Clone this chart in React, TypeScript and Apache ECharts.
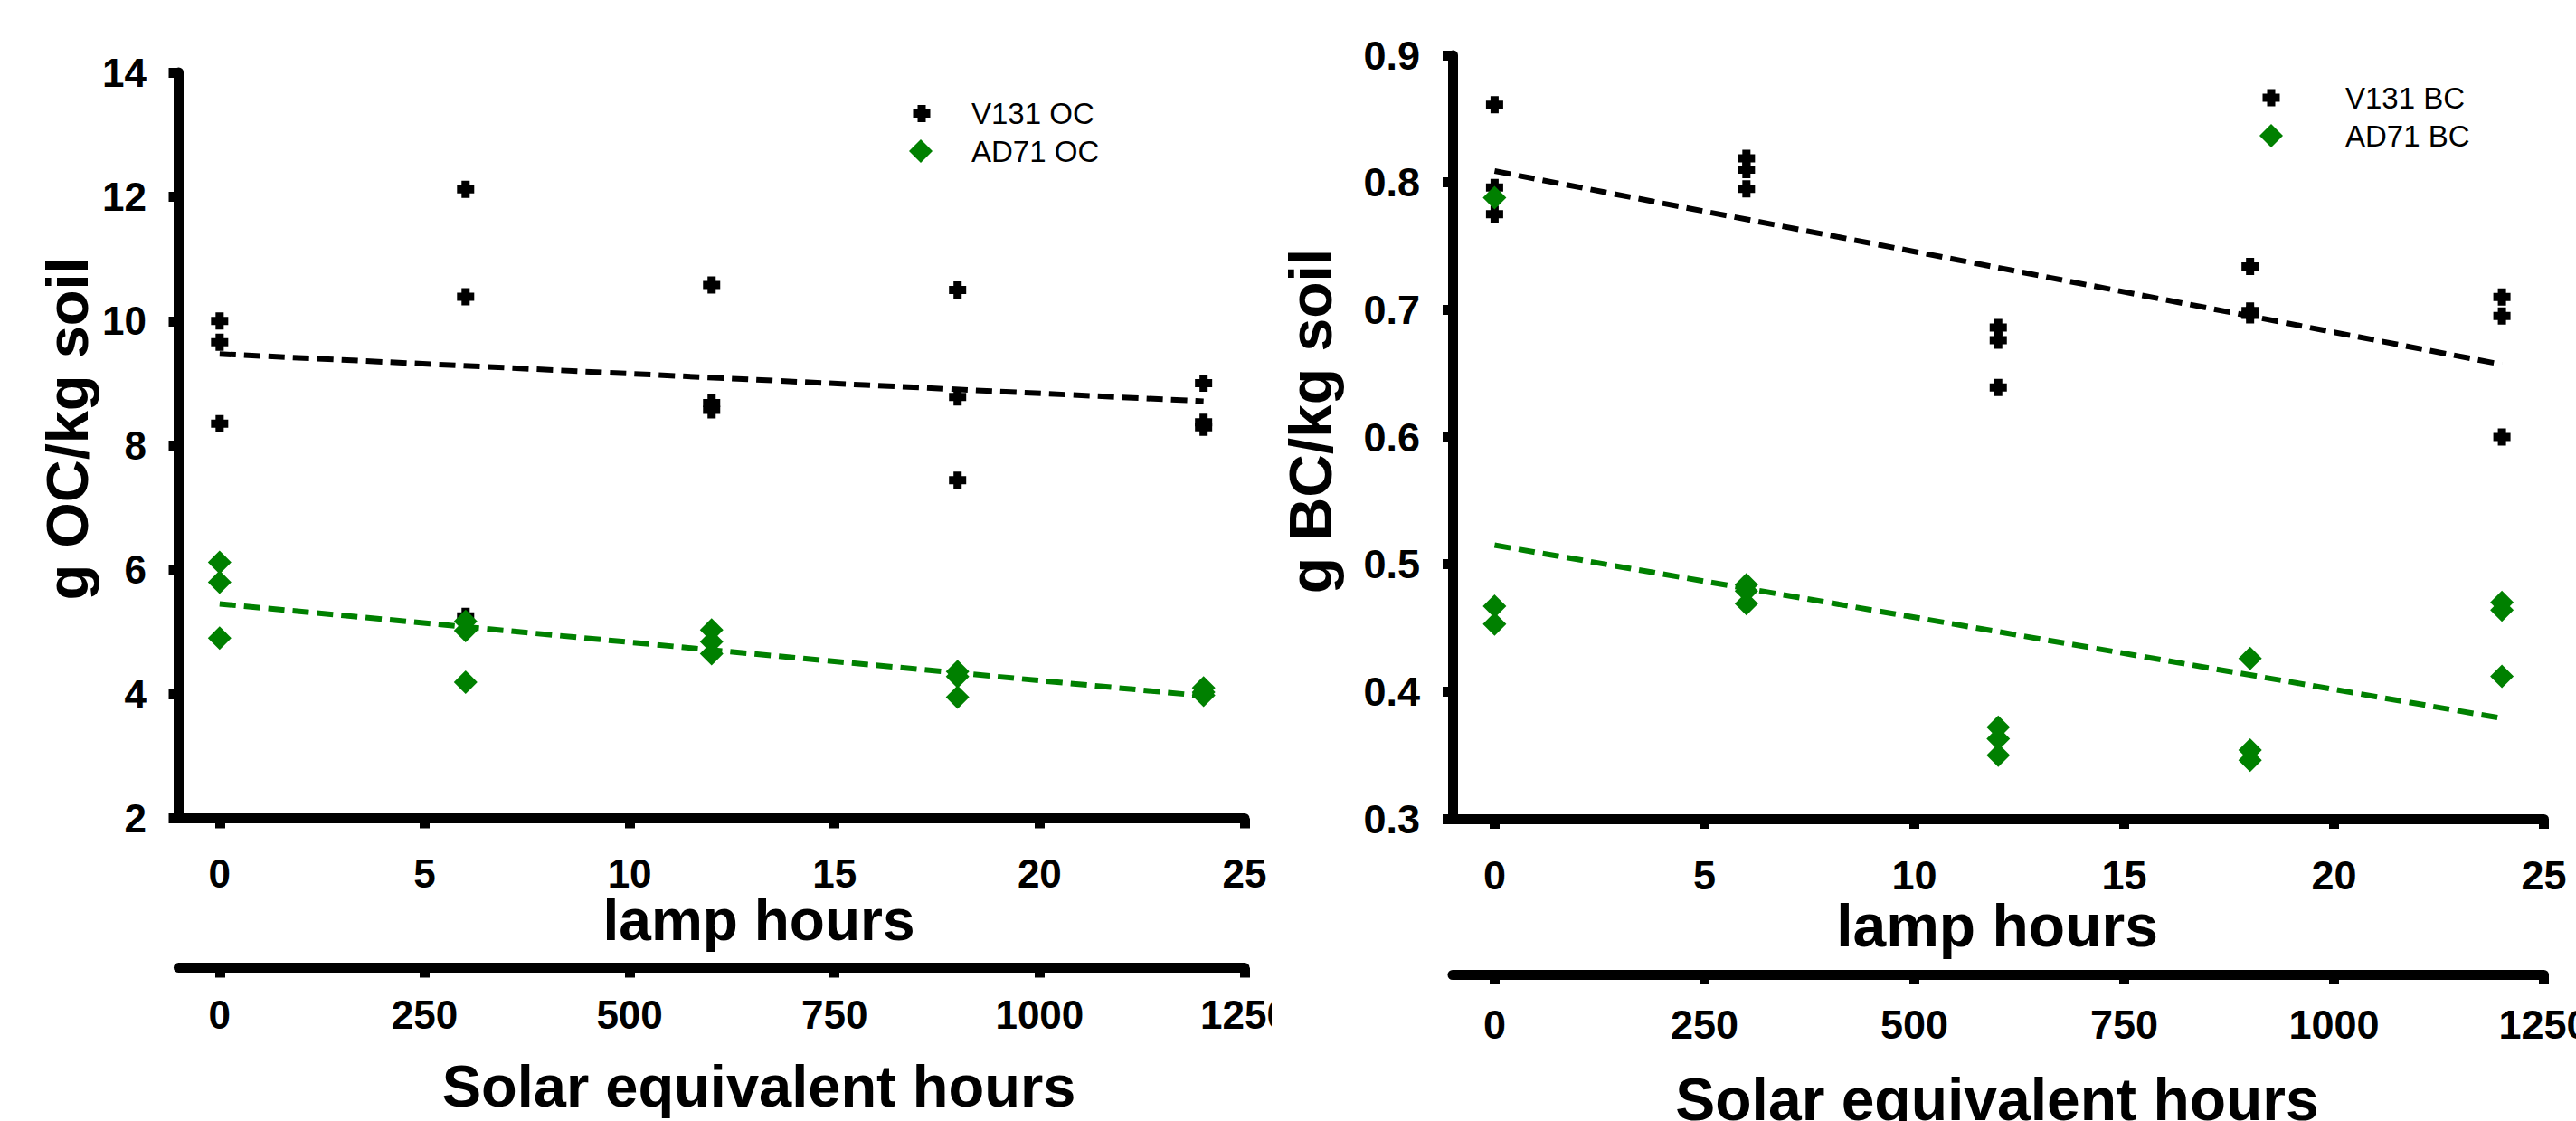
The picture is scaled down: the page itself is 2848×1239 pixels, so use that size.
import React, { useEffect, useRef } from "react";
import * as echarts from "echarts";

const FONT = "'Liberation Sans', Arial, Helvetica, sans-serif";

// tick labels
const lampTicks = [0, 5, 10, 15, 20, 25];
const solarTicks = [0, 250, 500, 750, 1000, 1250];

// ---- Left panel: organic carbon ----
const ocV131X = [0, 0, 0, 6, 6, 6, 12, 12, 12, 18, 18, 18, 24, 24, 24];
const ocV131Y = [10.0, 9.66, 8.35, 12.12, 10.39, 5.25, 10.58, 8.68, 8.57, 10.5, 8.78, 7.44, 9.0, 8.37, 8.29];
const ocAD71X = [0, 0, 0, 6, 6, 6, 12, 12, 12, 18, 18, 18, 24, 24, 24];
const ocAD71Y = [6.12, 5.8, 4.9, 5.17, 5.02, 4.19, 5.03, 4.84, 4.65, 4.36, 4.28, 3.95, 4.1, 4.03, 3.98];
const ocFitX = [0, 24];
const ocV131Fit = [9.47, 8.71];
const ocAD71Fit = [5.45, 3.97];

// ---- Right panel: black carbon ----
const bcV131X = [0, 0, 0, 6, 6, 6, 12, 12, 12, 18, 18, 18, 24, 24, 24];
const bcV131Y = [0.861, 0.796, 0.775, 0.819, 0.81, 0.795, 0.686, 0.676, 0.639, 0.734, 0.699, 0.696, 0.71, 0.695, 0.6];
const bcAD71X = [0, 0, 0, 6, 6, 6, 12, 12, 12, 18, 18, 18, 24, 24, 24];
const bcAD71Y = [0.788, 0.467, 0.453, 0.484, 0.479, 0.469, 0.372, 0.363, 0.35, 0.426, 0.354, 0.346, 0.47, 0.464, 0.412];
const bcFitX = [0, 24];
const bcV131Fit = [0.809, 0.657];
const bcAD71Fit = [0.515, 0.379];

const CROSS = "path://M5,0H14V5H19V14H14V19H5V14H0V5H5Z";
const BLACK = "#000000";
const GREEN = "#008000";

const zip = (xs: number[], ys: number[]) => xs.map((x, i) => [x, ys[i]]);

type PanelCfg = {
  gridLeft: number;
  gridTop: number;
  gridWidth: number;
  gridHeight: number;
  yMin: number;
  yMax: number;
  yInterval: number;
  yDecimals: number;
  yLabelSize: number;
  yLabelMargin: number;
  xLabelSize: number;
  xLabelMargin: number;
  x2Offset: number;
  x2LabelMargin: number;
  names: [string, string];
  v131: number[][];
  ad71: number[][];
  v131Fit: number[][];
  ad71Fit: number[][];
  legend: { bx: number; by: number; gx: number; gy: number; textX: number; size: number };
  yTitle: { text: string; x: number; y: number; size: number };
  lampTitle: { x: number; y: number; size: number };
  solarTitle: { x: number; y: number; size: number };
};

function axisBase() {
  return {
    axisLine: { show: true, onZero: false, lineStyle: { color: BLACK, width: 11 } },
    axisTick: { show: true, length: 11, lineStyle: { color: BLACK, width: 11 } },
    splitLine: { show: false },
  };
}

function buildOption(c: PanelCfg) {
  const labelStyle = (size: number, margin: number) => ({
    fontSize: size,
    fontWeight: "bold",
    fontFamily: FONT,
    color: BLACK,
    margin,
  });
  const legendItem = (name: string, icon: string, left: number, cy: number, w: number) => {
    const textH = c.legend.size;
    return {
      data: [{ name, icon }],
      orient: "vertical",
      left,
      top: cy - textH / 2,
      padding: 0,
      itemWidth: w,
      itemHeight: w,
      selectedMode: false,
      textStyle: {
        fontSize: c.legend.size,
        fontFamily: FONT,
        color: BLACK,
        padding: [0, 0, 0, c.legend.textX - (left + w + 5)],
      },
    };
  };
  const bw = 19;
  const gw = 26;
  const title = (text: string, x: number, y: number, size: number, rotation = 0) => ({
    type: "text",
    x,
    y,
    rotation,
    style: {
      text,
      fontSize: size,
      fontWeight: "bold",
      fontFamily: FONT,
      fill: BLACK,
      align: "center",
      verticalAlign: "middle",
      textAlign: "center",
      textVerticalAlign: "middle",
    },
  });
  return {
    animation: false,
    backgroundColor: "#ffffff",
    grid: {
      left: c.gridLeft,
      top: c.gridTop,
      width: c.gridWidth,
      height: c.gridHeight,
      containLabel: false,
      outerBoundsMode: "none",
    },
    legend: [
      legendItem(c.names[0], CROSS, c.legend.bx - bw / 2, c.legend.by, bw),
      legendItem(c.names[1], "diamond", c.legend.gx - gw / 2, c.legend.gy, gw),
    ],
    xAxis: [
      {
        type: "value",
        min: -1,
        max: 25,
        position: "bottom",
        ...axisBase(),
        axisTick: { show: true, length: 11, customValues: lampTicks, lineStyle: { color: BLACK, width: 11 } },
        axisLabel: {
          ...labelStyle(c.xLabelSize, c.xLabelMargin),
          customValues: lampTicks,
          formatter: (v: number) => String(v),
        },
      },
      {
        type: "value",
        min: -50,
        max: 1250,
        position: "bottom",
        offset: c.x2Offset,
        ...axisBase(),
        axisTick: { show: true, length: 11, customValues: solarTicks, lineStyle: { color: BLACK, width: 11 } },
        axisLabel: {
          ...labelStyle(c.xLabelSize, c.x2LabelMargin),
          customValues: solarTicks,
          formatter: (v: number) => String(v),
        },
      },
    ],
    yAxis: {
      type: "value",
      min: c.yMin,
      max: c.yMax,
      interval: c.yInterval,
      position: "left",
      ...axisBase(),
      axisLabel: {
        ...labelStyle(c.yLabelSize, c.yLabelMargin),
        formatter: (v: number) => v.toFixed(c.yDecimals),
      },
    },
    series: [
      {
        name: c.names[0] + " fit",
        type: "line",
        xAxisIndex: 0,
        data: c.v131Fit,
        symbol: "none",
        lineStyle: { color: BLACK, width: 6, type: [18, 9] },
        z: 3,
      },
      {
        name: c.names[1] + " fit",
        type: "line",
        xAxisIndex: 0,
        data: c.ad71Fit,
        symbol: "none",
        lineStyle: { color: GREEN, width: 6, type: [18, 9] },
        z: 3,
      },
      {
        name: c.names[0],
        type: "scatter",
        xAxisIndex: 0,
        data: c.v131,
        symbol: CROSS,
        symbolSize: 19,
        itemStyle: { color: BLACK, opacity: 1 },
        z: 4,
      },
      {
        name: c.names[1],
        type: "scatter",
        xAxisIndex: 0,
        data: c.ad71,
        symbol: "diamond",
        symbolSize: 26,
        itemStyle: { color: GREEN, opacity: 1 },
        z: 5,
      },
    ],
    graphic: [
      title(c.yTitle.text, c.yTitle.x, c.yTitle.y, c.yTitle.size, Math.PI / 2),
      title("lamp hours", c.lampTitle.x, c.lampTitle.y, c.lampTitle.size),
      title("Solar equivalent hours", c.solarTitle.x, c.solarTitle.y, c.solarTitle.size),
    ],
  };
}

const leftCfg: PanelCfg = {
  gridLeft: 197.5,
  gridTop: 80,
  gridWidth: 1178.5,
  gridHeight: 824.5,
  yMin: 2,
  yMax: 14,
  yInterval: 2,
  yDecimals: 0,
  yLabelSize: 44,
  yLabelMargin: 35.5,
  xLabelSize: 44,
  xLabelMargin: 39,
  x2Offset: 165,
  x2LabelMargin: 30,
  names: ["V131 OC", "AD71 OC"],
  v131: zip(ocV131X, ocV131Y),
  ad71: zip(ocAD71X, ocAD71Y),
  v131Fit: zip(ocFitX, ocV131Fit),
  ad71Fit: zip(ocFitX, ocAD71Fit),
  legend: { bx: 1019, by: 125.5, gx: 1018, gy: 167, textX: 1074, size: 33 },
  yTitle: { text: "g OC/kg soil", x: 74, y: 474, size: 65 },
  lampTitle: { x: 839, y: 1017, size: 64 },
  solarTitle: { x: 839, y: 1200, size: 65 },
};

const RIGHT_OFFSET = 1406;

const rightCfg: PanelCfg = {
  gridLeft: 1606 - RIGHT_OFFSET,
  gridTop: 61,
  gridWidth: 1206.5,
  gridHeight: 844,
  yMin: 0.3,
  yMax: 0.9,
  yInterval: 0.1,
  yDecimals: 1,
  yLabelSize: 45,
  yLabelMargin: 36,
  xLabelSize: 45,
  xLabelMargin: 39.5,
  x2Offset: 172,
  x2LabelMargin: 32.5,
  names: ["V131 BC", "AD71 BC"],
  v131: zip(bcV131X, bcV131Y),
  ad71: zip(bcAD71X, bcAD71Y),
  v131Fit: zip(bcFitX, bcV131Fit),
  ad71Fit: zip(bcFitX, bcAD71Fit),
  legend: { bx: 2511 - RIGHT_OFFSET, by: 108, gx: 2511 - RIGHT_OFFSET, gy: 150, textX: 2593 - RIGHT_OFFSET, size: 33 },
  yTitle: { text: "g BC/kg soil", x: 1449 - RIGHT_OFFSET, y: 465.5, size: 66 },
  lampTitle: { x: 2208 - RIGHT_OFFSET, y: 1023, size: 66 },
  solarTitle: { x: 2208 - RIGHT_OFFSET, y: 1214.5, size: 66 },
};

function Panel({ cfg, left, width }: { cfg: PanelCfg; left: number; width: number }) {
  const ref = useRef<HTMLDivElement | null>(null);
  useEffect(() => {
    if (!ref.current) return;
    const chart = echarts.init(ref.current, undefined, { renderer: "svg" });
    chart.setOption(buildOption(cfg) as any);
    return () => chart.dispose();
  }, [cfg]);
  return (
    <div
      ref={ref}
      style={{ position: "absolute", left, top: 0, width, height: 1239, overflow: "hidden" }}
    />
  );
}

export default function App() {
  return (
    <div
      style={{
        position: "fixed",
        left: 0,
        top: 0,
        width: 2848,
        height: 1239,
        background: "#ffffff",
        overflow: "hidden",
      }}
    >
      <Panel cfg={leftCfg} left={0} width={RIGHT_OFFSET} />
      <Panel cfg={rightCfg} left={RIGHT_OFFSET} width={2848 - RIGHT_OFFSET} />
    </div>
  );
}
